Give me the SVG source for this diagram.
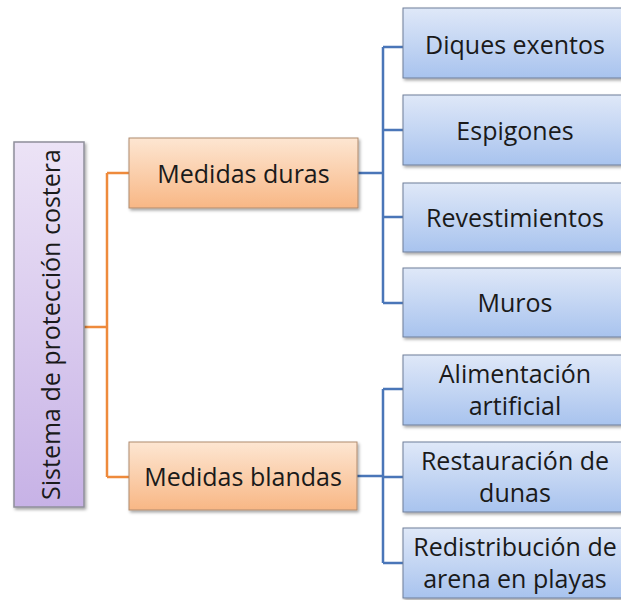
<svg xmlns="http://www.w3.org/2000/svg" width="621" height="600" viewBox="0 0 621 600">
<defs>
<linearGradient id="gRoot" x1="0" y1="0" x2="0" y2="1">
<stop offset="0" stop-color="#ece3f6"/><stop offset="1" stop-color="#c7b2e6"/>
</linearGradient>
<linearGradient id="gOr" x1="0" y1="0" x2="0" y2="1">
<stop offset="0" stop-color="#fde6d2"/><stop offset="1" stop-color="#f8b785"/>
</linearGradient>
<linearGradient id="gBl" x1="0" y1="0" x2="0" y2="1">
<stop offset="0" stop-color="#dfe8f8"/><stop offset="1" stop-color="#a8c3ee"/>
</linearGradient>
<filter id="sh" x="-10%" y="-10%" width="130%" height="140%">
<feDropShadow dx="1.5" dy="2" stdDeviation="1.5" flood-color="#000" flood-opacity="0.35"/>
</filter>
</defs>
<style>
.root{fill:url(#gRoot);stroke:#8f8f9a;stroke-width:1.5;filter:url(#sh)}
.or{fill:url(#gOr);stroke:#b08b6e;stroke-width:1;filter:url(#sh)}
.bl{fill:url(#gBl);stroke:#6f7f99;stroke-width:1;filter:url(#sh)}
text{font-family:"Open Sans","Noto Sans",sans-serif;fill:#1a1a1a;text-anchor:middle;dominant-baseline:central}
.t{font-size:25px}
.c1{fill:none;stroke:#ee8a3c;stroke-width:2.5}
.c2{fill:none;stroke:#4a76b8;stroke-width:2.5}
</style>
<g id="connectors">
<path class="c1" d="M84 327 H107 M107 173 V477 M107 173 H129 M107 477 H129"/>
<path class="c2" d="M358 173 H383 M383 47 V303 M383 47 H403 M383 130 H403 M383 217 H403 M383 303 H403"/>
<path class="c2" d="M357 476 H383 M383 389 V563 M383 389 H403 M383 477 H403 M383 563 H403"/>
</g>
<g id="root"><rect class="root" x="14" y="142" width="70" height="365"/>
<text class="t" transform="translate(50 324.5) rotate(-90)">Sistema de protección costera</text></g>
<g id="duras"><rect class="or" x="129" y="138" width="229" height="70"/><text class="t" x="243.5" y="173">Medidas duras</text></g>
<g id="blandas"><rect class="or" x="129" y="442" width="228" height="68"/><text class="t" x="243" y="476">Medidas blandas</text></g>
<g id="diques"><rect class="bl" x="403" y="8" width="222" height="70"/><text class="t" x="515" y="44">Diques exentos</text></g>
<g id="espigones"><rect class="bl" x="403" y="95" width="222" height="70"/><text class="t" x="515" y="130">Espigones</text></g>
<g id="revest"><rect class="bl" x="403" y="183" width="222" height="69"/><text class="t" x="515" y="217">Revestimientos</text></g>
<g id="muros"><rect class="bl" x="403" y="268" width="222" height="69"/><text class="t" x="515" y="302">Muros</text></g>
<g id="aliment"><rect class="bl" x="403" y="355" width="222" height="70"/><text class="t" x="515" y="373">Alimentación</text><text class="t" x="515" y="405">artificial</text></g>
<g id="restaur"><rect class="bl" x="403" y="442" width="222" height="70"/><text class="t" x="515" y="460">Restauración de</text><text class="t" x="515" y="492">dunas</text></g>
<g id="redist"><rect class="bl" x="403" y="528" width="222" height="70"/><text class="t" x="515" y="546">Redistribución de</text><text class="t" x="515" y="578">arena en playas</text></g>
</svg>
